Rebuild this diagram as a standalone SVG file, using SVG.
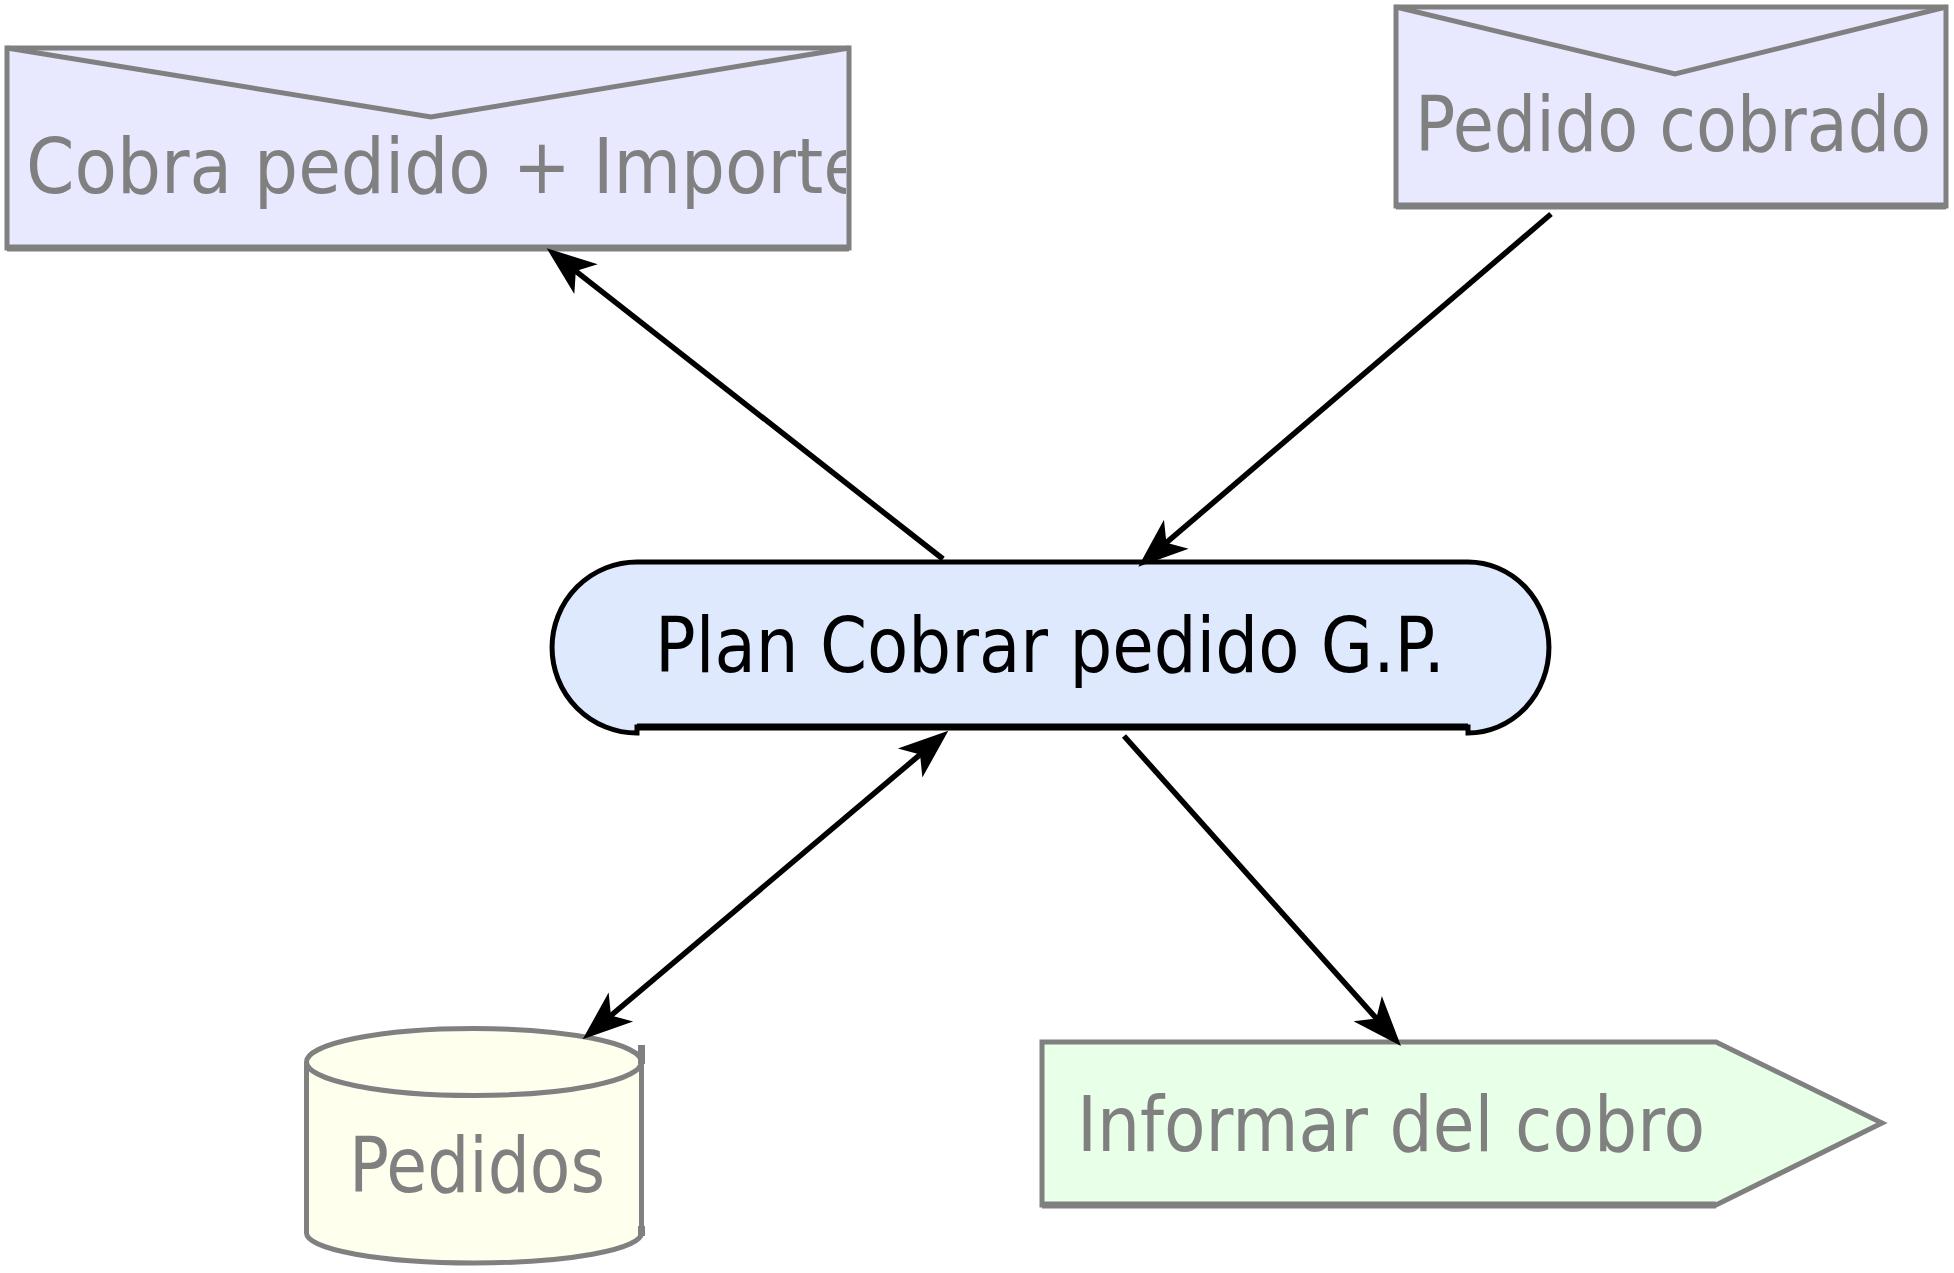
<svg xmlns="http://www.w3.org/2000/svg" width="1954" height="1273" viewBox="0 0 1954 1273">
<style>
.lbl{font-family:"DejaVu Sans Condensed","DejaVu Sans",sans-serif;font-size:76px;font-stretch:condensed;}
.gray{fill:#808080;}
.blk{fill:#000;}
.gbox{stroke:#808080;stroke-width:5;stroke-linejoin:miter;}
.conn{stroke:#000;stroke-width:5.5;fill:none;}
</style>
<defs>
<marker id="ah" markerUnits="userSpaceOnUse" markerWidth="60" markerHeight="44" viewBox="-52 -22 60 44" refX="-30" refY="0" orient="auto-start-reverse">
<path d="M0,0 L-50,-19 L-37,0 L-50,19 Z" fill="#000"/>
</marker>
<clipPath id="clipA"><rect x="9" y="50" width="837" height="196"/></clipPath>
</defs>
<rect x="0" y="0" width="1954" height="1273" fill="#fff"/>

<g id="cobra-pedido-importe">
<rect x="7" y="48" width="842" height="200" fill="#E8E8FF" class="gbox"/>
<line x1="7" y1="248" x2="849" y2="248" stroke="#808080" stroke-width="7"/>
<polyline points="7,48 431,117 849,48" fill="none" class="gbox" stroke-width="6"/>
<text class="lbl gray" x="26" y="193" textLength="840" lengthAdjust="spacingAndGlyphs" clip-path="url(#clipA)">Cobra pedido + Importe</text>
</g>

<g id="pedido-cobrado">
<rect x="1396" y="7" width="550" height="199" fill="#E8E8FF" class="gbox"/>
<line x1="1396" y1="206" x2="1946" y2="206" stroke="#808080" stroke-width="7"/>
<polyline points="1396,7 1675,74 1946,7" fill="none" class="gbox" stroke-width="6"/>
<text class="lbl gray" x="1415" y="151" textLength="516" lengthAdjust="spacingAndGlyphs">Pedido cobrado</text>
</g>

<g id="plan-cobrar-pedido">
<path d="M637,562 H1468 A81,85.5 0 0 1 1468,733 L1468,727 H637 L637,733 A85,85.5 0 0 1 637,562 Z" fill="#DEE9FE" stroke="#000" stroke-width="5"/>
<line x1="637" y1="727" x2="1468" y2="727" stroke="#000" stroke-width="7"/>
<text class="lbl blk" x="655" y="672" textLength="790" lengthAdjust="spacingAndGlyphs">Plan Cobrar pedido G.P.</text>
</g>

<g id="pedidos">
<path d="M306.5,1062 V1233 A167.5,30 0 0 0 641.5,1233 V1062" fill="#FFFFEE" stroke="#808080" stroke-width="5"/>
<ellipse cx="474" cy="1062" rx="167.5" ry="33.5" fill="#FFFFEE" stroke="#808080" stroke-width="5"/>
<line x1="641.5" y1="1045" x2="641.5" y2="1064" stroke="#808080" stroke-width="7"/>
<line x1="641.5" y1="1226" x2="641.5" y2="1236" stroke="#808080" stroke-width="7"/>
<text class="lbl gray" x="349" y="1192" textLength="256" lengthAdjust="spacingAndGlyphs">Pedidos</text>
</g>

<g id="informar-del-cobro">
<polygon points="1042,1042 1716,1042 1882,1123 1716,1205 1042,1205" fill="#E8FFE8" class="gbox"/>
<line x1="1042" y1="1205" x2="1716" y2="1205" stroke="#808080" stroke-width="7"/>
<text class="lbl gray" x="1077" y="1151" textLength="628" lengthAdjust="spacingAndGlyphs">Informar del cobro</text>
</g>

<g id="connectors">
<line class="conn" x1="943" y1="559" x2="570.3" y2="266.8" marker-end="url(#ah)"/>
<line class="conn" x1="1551" y1="214" x2="1161.1" y2="547.2" marker-end="url(#ah)"/>
<line class="conn" x1="605.6" y1="1020" x2="925.4" y2="750.1" stroke-width="6.5" marker-start="url(#ah)" marker-end="url(#ah)"/>
<line class="conn" x1="1124" y1="736" x2="1381" y2="1023.6" marker-end="url(#ah)"/>
</g>
</svg>
